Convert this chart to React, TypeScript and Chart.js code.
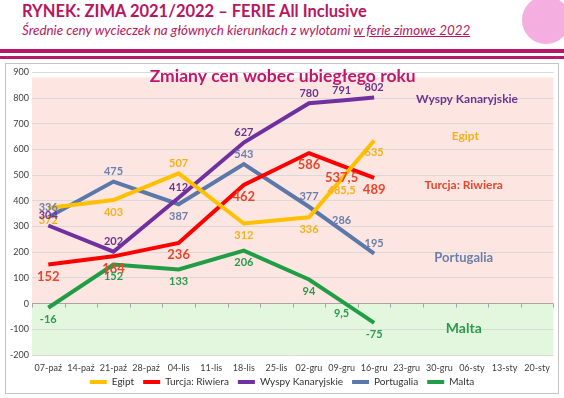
import React, { useEffect, useRef } from "react";
import { Chart, registerables } from "chart.js";
Chart.register(...registerables);

const categories = ["07-paź", "14-paź", "21-paź", "28-paź", "04-lis", "11-lis", "18-lis", "25-lis", "02-gru", "09-gru", "16-gru", "23-gru", "30-gru", "06-sty", "13-sty", "20-sty"];
const egipt = [372, null, 403, null, 507, null, 312, null, 336, 485.5, 635, null, null, null, null, null];
const turcja = [152, null, 184, null, 236, null, 462, null, 586, 537.5, 489, null, null, null, null, null];
const wyspy = [304, null, 202, null, 412, null, 627, null, 780, 791, 802, null, null, null, null, null];
const portugalia = [336, null, 475, null, 387, null, 543, null, 377, 286, 195, null, null, null, null, null];
const malta = [-16, null, 152, null, 133, null, 206, null, 94, 9.5, -75, null, null, null, null, null];
const yMin = -200;
const yMax = 900;
const yStep = 100;

// label placement (style): "a" = above, "b" = below
const egiptPos = ["b", "", "b", "", "a", "", "b", "", "b", "b", "b"];
const turcjaPos = ["b", "", "b", "", "b", "", "b", "", "b", "b", "b"];
const wyspyPos = ["a", "", "a", "", "a", "", "a", "", "a", "a", "a"];
const portPos = ["a", "", "a", "", "b", "", "a", "", "a", "a", "a"];
const maltaPos = ["b", "", "b", "", "b", "", "b", "", "b", "b", "b"];

const seriesNames = ["Egipt", "Turcja: Riwiera", "Wyspy Kanaryjskie", "Portugalia", "Malta"];
const seriesColors = ["#ffc000", "#ff0000", "#7030a0", "#5b78ab", "#1f9e45"];
const labelColors = ["#f2b21a", "#e8452c", "#6a3591", "#6a7fab", "#2e9a4c"];
const labelSizes = [11, 13, 11, 11, 11];

// side annotations: [text, category position, value, colour, size]
const annotations: [string, number, number, string, number][] = [
  ["Wyspy Kanaryjskie", 12.85, 795, "#6a3591", 12],
  ["Egipt", 12.8, 651, "#f2b21a", 12],
  ["Turcja: Riwiera", 12.75, 461, "#e8452c", 12],
  ["Portugalia", 12.75, 178, "#6a7fab", 13],
  ["Malta", 12.75, -97, "#2e9a4c", 14],
];

const chartTitle = "Zmiany cen wobec ubiegłego roku";

const fmt = (v: number) => String(v).replace(".", ",");

export default function App() {
  const ref = useRef<HTMLCanvasElement | null>(null);

  useEffect(() => {
    const data = [egipt, turcja, wyspy, portugalia, malta];
    const pos = [egiptPos, turcjaPos, wyspyPos, portPos, maltaPos];
    const FONT = "Lato, 'Open Sans', sans-serif";

    const bgPlugin = {
      id: "bg",
      afterLayout(chart: any) {
        if (chart.legend) chart.legend.top -= 6;
      },
      beforeDraw(chart: any) {
        const { ctx, chartArea, scales } = chart;
        const y = scales.y;
        const z = y.getPixelForValue(0);
        const top = y.getPixelForValue(880);
        const bot = y.getPixelForValue(yMin);
        ctx.save();
        ctx.fillStyle = "#fde5e1";
        ctx.fillRect(chartArea.left, top, chartArea.right - chartArea.left, z - top);
        ctx.fillStyle = "#e3f7df";
        ctx.fillRect(chartArea.left, z, chartArea.right - chartArea.left, bot - z);
        ctx.restore();
      },
    };

    const overlayPlugin = {
      id: "overlay",
      afterDatasetsDraw(chart: any) {
        const { ctx, scales, chartArea } = chart;
        const x = scales.x;
        const y = scales.y;
        ctx.save();
        const z = y.getPixelForValue(0);
        ctx.strokeStyle = "#a6a6a6";
        ctx.lineWidth = 1;
        const w = (chartArea.right - chartArea.left) / categories.length;
        for (let i = 0; i <= categories.length; i++) {
          const px = Math.round(chartArea.left + i * w) + 0.5;
          ctx.beginPath();
          ctx.moveTo(px, z);
          ctx.lineTo(px, z + 4);
          ctx.stroke();
        }
        ctx.textAlign = "center";
        ctx.textBaseline = "middle";
        data.forEach((arr, si) => {
          ctx.font = `bold ${labelSizes[si]}px ${FONT}`;
          ctx.fillStyle = labelColors[si];
          arr.forEach((v, i) => {
            if (v === null) return;
            const px = x.getPixelForValue(i);
            const py = y.getPixelForValue(v);
            const above = pos[si][i] === "a";
            ctx.fillText(fmt(v), px, above ? py - 10 : py + 12);
          });
        });
        annotations.forEach(([t, cx, v, c, s]) => {
          ctx.font = `bold ${s}px ${FONT}`;
          ctx.fillStyle = c;
          ctx.fillText(t, x.getPixelForValue(cx), y.getPixelForValue(v));
        });
        ctx.font = `bold 17.5px ${FONT}`;
        ctx.fillStyle = "#c0176c";
        ctx.fillText(chartTitle, (chartArea.left + chartArea.right) / 2 - 10, chartArea.top + 4);
        ctx.restore();
      },
    };

    const chart = new Chart(ref.current as HTMLCanvasElement, {
      type: "line",
      data: {
        labels: categories,
        datasets: data.map((d, i) => ({
          label: seriesNames[i],
          data: d,
          borderColor: seriesColors[i],
          backgroundColor: seriesColors[i],
          borderWidth: 4,
          pointRadius: 0,
          tension: 0,
          spanGaps: true,
        })),
      },
      options: {
        animation: false,
        responsive: false,
        maintainAspectRatio: false,
        layout: { padding: { left: 4, right: 4, top: 6, bottom: -10 } },
        scales: {
          x: {
            offset: true,
            grid: { display: false, drawTicks: false },
            border: { display: false },
            ticks: { font: { family: FONT, size: 9 }, color: "#404040", padding: 8, maxRotation: 0, autoSkip: false },
            afterFit: (s: any) => { s.height = 19; },
          },
          y: {
            min: yMin,
            max: yMax,
            ticks: { stepSize: yStep, font: { family: FONT, size: 9 }, color: "#404040", padding: 3 },
            grid: {
              color: (c: any) => (c.tick && c.tick.value === 0 ? "#a6a6a6" : "#d9d9d9"),
              drawTicks: false,
            },
            border: { display: false },
            afterFit: (s: any) => { s.width = 22; },
          },
        },
        plugins: {
          legend: {
            position: "bottom",
            labels: {
              font: { family: FONT, size: 10 },
              color: "#333",
              boxWidth: 17,
              boxHeight: 4,
              padding: 9,
              generateLabels: (c: any) =>
                (Chart.defaults.plugins.legend.labels as any).generateLabels(c).map((l: any) => ({ ...l, lineWidth: 0 })),
            },
          },
          tooltip: { enabled: false },
        },
      },
      plugins: [bgPlugin, overlayPlugin],
    } as any);
    return () => chart.destroy();
  }, []);

  return (
    <div style={{ position: "absolute", left: 0, top: 0, width: 564, height: 398, overflow: "hidden", background: "#fff", fontFamily: "Lato, sans-serif" }}>
      <div style={{ position: "absolute", left: 522, top: -4, width: 48, height: 48, borderRadius: "50%", background: "#f5aee0" }} />
      <div style={{ position: "absolute", left: 22, top: 1, fontSize: 16.5, fontWeight: 700, color: "#b8175e", whiteSpace: "nowrap", lineHeight: "20px" }}>
        RYNEK: ZIMA 2021/2022 – FERIE All Inclusive
      </div>
      <div style={{ position: "absolute", left: 22, top: 22, fontSize: 13.4, fontStyle: "italic", color: "#b8175e", whiteSpace: "nowrap", lineHeight: "16px" }}>
        Średnie ceny wycieczek na głównych kierunkach z wylotami <span style={{ textDecoration: "underline" }}>w ferie zimowe 2022</span>
      </div>
      <div style={{ position: "absolute", left: 0, top: 49, width: 564, height: 4, background: "#b8176a" }} />
      <div style={{ position: "absolute", left: 0, top: 56, width: 564, height: 3, background: "#b8176a" }} />
      <div style={{ position: "absolute", left: 5, top: 63, width: 554, height: 331, border: "1px solid #c4c4c4", boxSizing: "border-box", background: "#fff" }}>
        <canvas ref={ref} width={552} height={329} style={{ display: "block", width: 552, height: 329 }} />
      </div>
    </div>
  );
}
